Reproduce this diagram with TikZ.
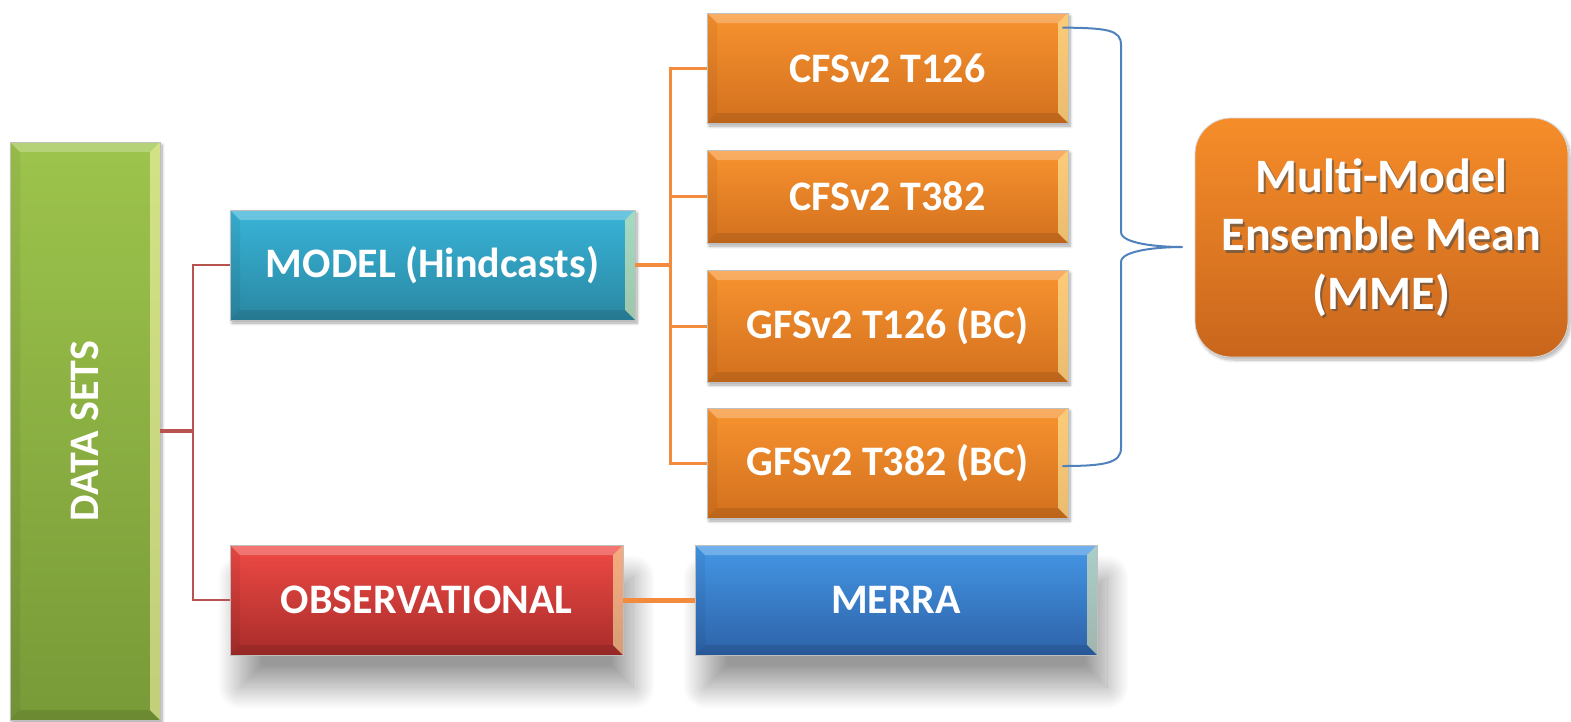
\documentclass[tikz,border=0pt]{standalone}
\usepackage{fontspec}
\setmainfont{Carlito}
\usetikzlibrary{shadows.blur}
\definecolor{gTop}{HTML}{9DC44C}\definecolor{gBot}{HTML}{789A38}
\definecolor{cTop}{HTML}{38B4D8}\definecolor{cBot}{HTML}{2A87A2}
\definecolor{oTop}{HTML}{F8932F}\definecolor{oBot}{HTML}{D2701E}
\definecolor{rTop}{HTML}{F04A45}\definecolor{rBot}{HTML}{A72C2A}
\definecolor{bTop}{HTML}{4597E6}\definecolor{bBot}{HTML}{2D62A8}
\definecolor{mTop}{HTML}{F68D2A}\definecolor{mBot}{HTML}{C9661C}
\definecolor{redline}{HTML}{B85450}
\definecolor{orline}{HTML}{F28C3C}
\definecolor{braceblue}{HTML}{4F81BD}
\tikzset{
  bevelbox/.style={draw=black!25, line width=0.8pt, text=white, inner sep=0pt,
    font=\bfseries\fontsize{42}{48}\selectfont, align=center,
    path picture={
      \fill[white,opacity=.25] (path picture bounding box.north west) -- (path picture bounding box.north east)
        -- ([shift={(-10pt,-10pt)}]path picture bounding box.north east) -- ([shift={(10pt,-10pt)}]path picture bounding box.north west) -- cycle;
      \fill[yellow!30!white,opacity=.55] (path picture bounding box.north east) -- (path picture bounding box.south east)
        -- ([shift={(-10pt,10pt)}]path picture bounding box.south east) -- ([shift={(-10pt,-10pt)}]path picture bounding box.north east) -- cycle;
      \fill[black,opacity=.05] (path picture bounding box.north west) -- (path picture bounding box.south west)
        -- ([shift={(10pt,10pt)}]path picture bounding box.south west) -- ([shift={(10pt,-10pt)}]path picture bounding box.north west) -- cycle;
      \fill[black,opacity=.10] (path picture bounding box.south west) -- (path picture bounding box.south east)
        -- ([shift={(-10pt,10pt)}]path picture bounding box.south east) -- ([shift={(10pt,10pt)}]path picture bounding box.south west) -- cycle;
    }},
  smallshadow/.style={blur shadow={shadow xshift=2pt, shadow yshift=-3pt, shadow blur radius=3pt, shadow blur steps=8, shadow opacity=35}},
  bigshadow/.style={blur shadow={shadow xshift=10pt, shadow yshift=-32pt, shadow blur radius=22pt, shadow blur steps=30, shadow opacity=40}},
  greenbox/.style={bevelbox, smallshadow, top color=gTop, bottom color=gBot},
  cyanbox/.style={bevelbox, smallshadow, top color=cTop, bottom color=cBot},
  orangebox/.style={bevelbox, smallshadow, top color=oTop, bottom color=oBot},
  redbox/.style={bevelbox, bigshadow, top color=rTop, bottom color=rBot},
  bluebox/.style={bevelbox, bigshadow, top color=bTop, bottom color=bBot},
  redconn/.style={draw=redline, line width=2pt},
  orconn/.style={draw=orline, line width=4pt},
  braceline/.style={draw=braceblue, line width=2pt, line join=round},
}
\begin{document}
\begin{tikzpicture}[x=1pt,y=-1pt]
\useasboundingbox (0,0) rectangle (1571,721);

% nodes
\node[greenbox, minimum width=150pt, minimum height=578pt] (ds) at (85,431) {\rotatebox{90}{DATA SETS}};
\node[cyanbox, minimum width=405pt, minimum height=110pt] (model) at (432.5,265) {MODEL (Hindcasts)};
\node[redbox, minimum width=393pt, minimum height=110pt] (obs) at (426.5,600) {OBSERVATIONAL};
\node[bluebox, minimum width=402pt, minimum height=110pt] (merra) at (896,600) {MERRA};
\node[orangebox, minimum width=361pt, minimum height=110pt] (c1) at (887.5,68) {CFSv2 T126};
\node[orangebox, minimum width=361pt, minimum height=93pt] (c2) at (887.5,196.5) {CFSv2 T382};
\node[orangebox, minimum width=361pt, minimum height=112pt] (g1) at (887.5,326) {GFSv2 T126 (BC)};
\node[orangebox, minimum width=361pt, minimum height=110pt] (g2) at (887.5,463) {GFSv2 T382 (BC)};
\node[draw=black!15, line width=0.8pt, rounded corners=36pt, top color=mTop, bottom color=mBot,
      minimum width=373pt, minimum height=239pt, text=white, align=center, inner sep=0pt,
      font=\bfseries\fontsize{48}{58.5}\selectfont,
      blur shadow={shadow xshift=2pt, shadow yshift=-3pt, shadow blur radius=3pt, shadow blur steps=8, shadow opacity=30}]
      (mme) at (1381.5,237.5) {};
\node[text=black!70, opacity=.6, align=center, font=\bfseries\fontsize{48}{58.5}\selectfont]
      (mmeshadow) at ([shift={(2pt,-2.5pt)}]mme.center) {Multi-Model\\Ensemble Mean\\(MME)};
\node[text=white, align=center, font=\bfseries\fontsize{48}{58.5}\selectfont]
      (mmetext) at (mme.center) {Multi-Model\\Ensemble Mean\\(MME)};

% connectors
\coordinate (rj) at (193,431);
\draw[redconn, line width=4pt] (ds.east) -- (rj);
\draw[redconn] (model.west) -| (rj) |- (obs.west);

\coordinate (oj) at (670,265);
\draw[orconn] (model.east) -- (oj);
\draw[orconn, line width=3pt] (c1.west) -| (oj) |- (g2.west);
\draw[orconn, line width=3pt] (c2.west) -- (c2.west -| oj);
\draw[orconn, line width=3pt] (g1.west) -- (g1.west -| oj);
\draw[orconn, line width=5pt] (obs.east) -- (merra.west);

% brace
\coordinate (bt) at ([yshift=-15pt,xshift=-6pt]c1.north east);
\coordinate (bb) at ([xshift=-6pt,yshift=-3pt]g2.east);
\coordinate (tip) at (1182,247);
\draw[braceline] (bt) .. controls (1108,28) and (1121,30) .. (1121,45) -- (1121,232)
  .. controls (1121,244) and (1160,247) .. (tip)
  .. controls (1160,247) and (1121,250) .. (1121,262) -- (1121,448)
  .. controls (1121,463) and (1105,466) .. (bb);
\end{tikzpicture}
\end{document}
